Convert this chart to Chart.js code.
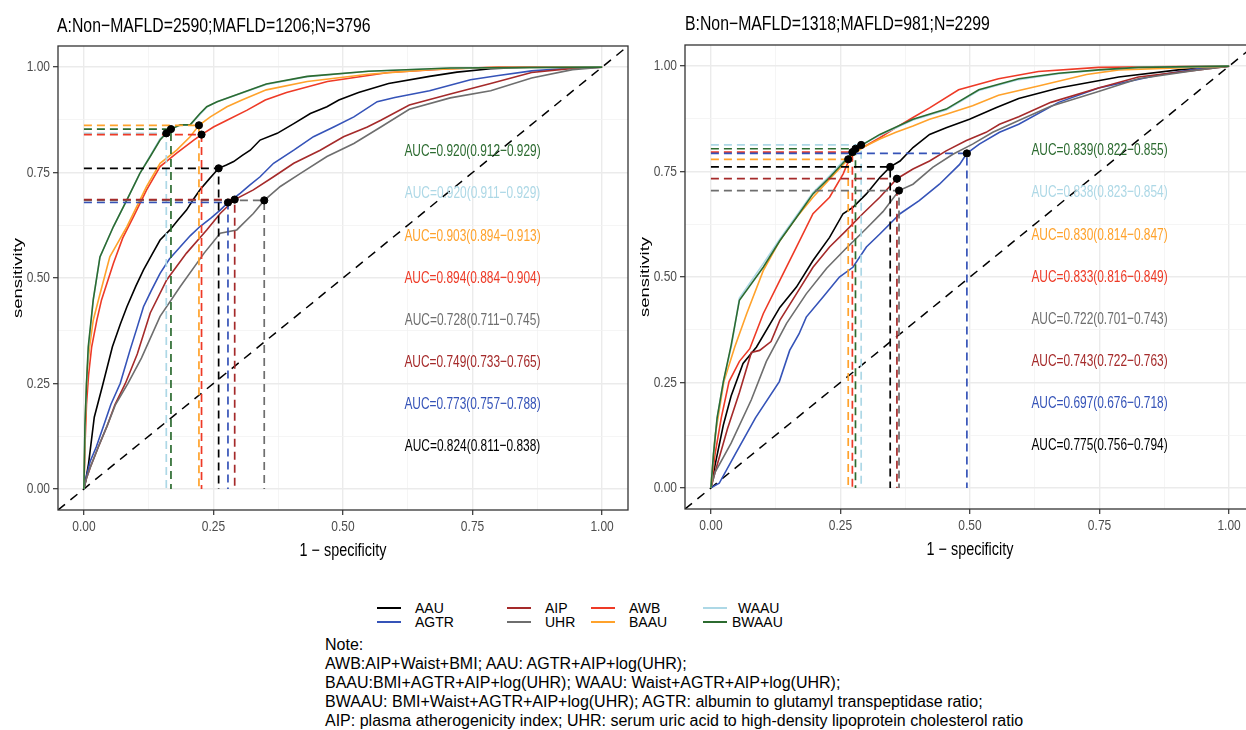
<!DOCTYPE html>
<html>
<head>
<meta charset="utf-8">
<script src="https://cdn.jsdelivr.net/npm/chart.js@4.4.1/dist/chart.umd.min.js"></script>
<style>
  html, body { margin: 0; padding: 0; background: #fff; overflow: hidden; }
  #wrap { position: relative; width: 1246px; height: 730px; overflow: hidden; }
  canvas { position: absolute; }
  .ttl { position: absolute; font-family: 'Liberation Sans', Arial, sans-serif; font-size: 20px; line-height: 20px; white-space: nowrap; color: #000; transform: scaleX(0.79); transform-origin: 0 0; }
  .lg-key { position: absolute; height: 2px; }
  .lg-txt { position: absolute; font-family: 'Liberation Sans', Arial, sans-serif; font-size: 14px; line-height: 14px; white-space: nowrap; color: #000; }
  #note { position: absolute; left: 325px; top: 635px; font-family: 'Liberation Sans', Arial, sans-serif; font-size: 16px; line-height: 19px; white-space: nowrap; color: #000; }
</style>
</head>
<body>
<div id="wrap">
  <canvas id="rocA" width="640" height="570" style="left:0;top:0"></canvas>
  <canvas id="rocB" width="640" height="570" style="left:627px;top:-1px"></canvas>
  <div class="ttl" style="left:57px;top:15px">A:Non−MAFLD=2590;MAFLD=1206;N=3796</div>
  <div class="ttl" style="left:685px;top:13px">B:Non−MAFLD=1318;MAFLD=981;N=2299</div>
  <div id="legend"></div>
  <div id="note">Note:<br>AWB:AIP+Waist+BMI; AAU: AGTR+AIP+log(UHR);<br>BAAU:BMI+AGTR+AIP+log(UHR); WAAU: Waist+AGTR+AIP+log(UHR);<br>BWAAU: BMI+Waist+AGTR+AIP+log(UHR); AGTR: albumin to glutamyl transpeptidase ratio;<br>AIP: plasma atherogenicity index; UHR: serum uric acid to high-density lipoprotein cholesterol ratio</div>
</div>
<script>
// Модели (порядок легенды)
const models = ['AAU', 'AGTR', 'AIP', 'UHR', 'AWB', 'BAAU', 'WAAU', 'BWAAU'];
const modelColors = ['#000000', '#3553B8', '#A52A2A', '#6E6E6E', '#EE3A26', '#FFA22B', '#ADD8E6', '#2C6B30'];

// Деления осей
const tickValues = [0, 0.25, 0.5, 0.75, 1];
const tickLabels = ['0.00', '0.25', '0.50', '0.75', '1.00'];
const minorTicks = [0.125, 0.375, 0.625, 0.875];

// ---- Панель A: ROC кривые (1 - специфичность / чувствительность) ----
const A_AAU_fpr = [0, 0.004, 0.009, 0.02, 0.036, 0.055, 0.07, 0.083, 0.1, 0.115, 0.131, 0.147, 0.166, 0.182, 0.198, 0.212, 0.224, 0.242, 0.26, 0.275, 0.289, 0.305, 0.321, 0.34, 0.373, 0.405, 0.437, 0.469, 0.492, 0.53, 0.588, 0.667, 0.72, 0.785, 0.86, 0.93, 1];
const A_AAU_tpr = [0, 0.025, 0.06, 0.17, 0.245, 0.337, 0.39, 0.432, 0.48, 0.519, 0.555, 0.59, 0.614, 0.638, 0.661, 0.688, 0.709, 0.735, 0.76, 0.768, 0.776, 0.79, 0.803, 0.827, 0.843, 0.866, 0.89, 0.906, 0.922, 0.94, 0.961, 0.978, 0.988, 0.996, 1, 1, 1];
const A_AGTR_fpr = [0, 0.005, 0.012, 0.024, 0.038, 0.052, 0.07, 0.089, 0.102, 0.115, 0.13, 0.147, 0.165, 0.186, 0.205, 0.224, 0.245, 0.263, 0.278, 0.302, 0.32, 0.34, 0.366, 0.405, 0.443, 0.482, 0.521, 0.566, 0.6, 0.667, 0.746, 0.8, 0.864, 0.943, 1];
const A_AGTR_tpr = [0, 0.03, 0.065, 0.1, 0.15, 0.2, 0.25, 0.329, 0.38, 0.432, 0.47, 0.511, 0.545, 0.574, 0.6, 0.622, 0.642, 0.661, 0.679, 0.701, 0.72, 0.74, 0.772, 0.803, 0.835, 0.858, 0.882, 0.918, 0.928, 0.944, 0.97, 0.98, 0.991, 0.998, 1];
const A_AIP_fpr = [0, 0.005, 0.012, 0.028, 0.045, 0.06, 0.08, 0.103, 0.128, 0.16, 0.198, 0.237, 0.263, 0.291, 0.327, 0.366, 0.405, 0.456, 0.501, 0.547, 0.573, 0.628, 0.707, 0.785, 0.864, 0.943, 1];
const A_AIP_tpr = [0, 0.025, 0.05, 0.1, 0.15, 0.2, 0.25, 0.32, 0.417, 0.496, 0.559, 0.614, 0.653, 0.686, 0.709, 0.74, 0.772, 0.803, 0.835, 0.858, 0.874, 0.91, 0.936, 0.961, 0.987, 0.997, 1];
const A_UHR_fpr = [0, 0.005, 0.012, 0.028, 0.045, 0.061, 0.085, 0.111, 0.147, 0.186, 0.232, 0.263, 0.295, 0.327, 0.348, 0.379, 0.418, 0.469, 0.521, 0.573, 0.628, 0.707, 0.785, 0.864, 0.943, 1];
const A_UHR_tpr = [0, 0.025, 0.05, 0.1, 0.15, 0.2, 0.25, 0.31, 0.409, 0.48, 0.559, 0.606, 0.614, 0.653, 0.684, 0.717, 0.748, 0.788, 0.819, 0.858, 0.9, 0.927, 0.944, 0.974, 0.994, 1];
const A_AWB_fpr = [0, 0.002, 0.005, 0.009, 0.015, 0.025, 0.034, 0.057, 0.075, 0.096, 0.121, 0.147, 0.179, 0.212, 0.227, 0.25, 0.276, 0.315, 0.35, 0.391, 0.47, 0.588, 0.707, 0.8, 1];
const A_AWB_tpr = [0, 0.1, 0.2, 0.27, 0.337, 0.4, 0.448, 0.535, 0.595, 0.646, 0.709, 0.764, 0.796, 0.827, 0.84, 0.858, 0.874, 0.898, 0.922, 0.94, 0.966, 0.987, 0.996, 1, 1];
const A_BAAU_fpr = [0, 0.002, 0.004, 0.007, 0.011, 0.018, 0.028, 0.05, 0.083, 0.121, 0.147, 0.179, 0.205, 0.222, 0.244, 0.276, 0.305, 0.352, 0.431, 0.549, 0.667, 0.785, 1];
const A_BAAU_tpr = [0, 0.12, 0.22, 0.29, 0.337, 0.4, 0.448, 0.55, 0.622, 0.717, 0.772, 0.803, 0.835, 0.862, 0.882, 0.906, 0.922, 0.946, 0.966, 0.983, 0.994, 0.999, 1];
const A_WAAU_fpr = [0, 0.002, 0.005, 0.009, 0.018, 0.031, 0.057, 0.083, 0.108, 0.128, 0.147, 0.159, 0.17, 0.186, 0.205, 0.224, 0.237, 0.257, 0.352, 0.431, 0.549, 0.707, 1];
const A_WAAU_tpr = [0, 0.15, 0.25, 0.337, 0.448, 0.55, 0.622, 0.685, 0.748, 0.79, 0.83, 0.843, 0.854, 0.862, 0.863, 0.888, 0.905, 0.918, 0.959, 0.977, 0.99, 0.998, 1];
const A_BWAAU_fpr = [0, 0.002, 0.005, 0.0084, 0.018, 0.031, 0.057, 0.083, 0.108, 0.128, 0.147, 0.159, 0.168, 0.186, 0.205, 0.224, 0.237, 0.257, 0.352, 0.431, 0.549, 0.707, 1];
const A_BWAAU_tpr = [0, 0.15, 0.25, 0.337, 0.448, 0.55, 0.622, 0.685, 0.748, 0.788, 0.827, 0.843, 0.853, 0.863, 0.863, 0.89, 0.906, 0.918, 0.96, 0.978, 0.99, 0.998, 1];

// Точки отсечения A
const A_cut_fpr = [0.260, 0.278, 0.291, 0.348, 0.227, 0.222, 0.159, 0.168];
const A_cut_tpr = [0.760, 0.679, 0.686, 0.684, 0.840, 0.862, 0.843, 0.853];
const A_auc = ['0.824(0.811−0.838)', '0.773(0.757−0.788)', '0.749(0.733−0.765)', '0.728(0.711−0.745)', '0.894(0.884−0.904)', '0.903(0.894−0.913)', '0.920(0.911−0.929)', '0.920(0.912−0.929)'];

// ---- Панель B ----
const B_AAU_fpr = [0, 0.008, 0.024, 0.039, 0.062, 0.088, 0.133, 0.165, 0.197, 0.229, 0.255, 0.274, 0.3, 0.326, 0.346, 0.365, 0.39, 0.422, 0.454, 0.499, 0.55, 0.594, 0.671, 0.787, 0.902, 1];
const B_AAU_tpr = [0, 0.054, 0.149, 0.218, 0.295, 0.334, 0.428, 0.476, 0.539, 0.594, 0.65, 0.665, 0.697, 0.736, 0.761, 0.775, 0.807, 0.838, 0.854, 0.874, 0.901, 0.923, 0.948, 0.974, 0.991, 1];
const B_AGTR_fpr = [0, 0.016, 0.047, 0.086, 0.132, 0.152, 0.17, 0.184, 0.216, 0.248, 0.274, 0.3, 0.326, 0.365, 0.402, 0.441, 0.48, 0.494, 0.518, 0.557, 0.594, 0.671, 0.748, 0.864, 0.941, 1];
const B_AGTR_tpr = [0, 0.011, 0.08, 0.166, 0.252, 0.326, 0.365, 0.405, 0.452, 0.5, 0.523, 0.571, 0.602, 0.65, 0.681, 0.72, 0.767, 0.793, 0.815, 0.843, 0.862, 0.914, 0.948, 0.979, 0.994, 1];
const B_AIP_fpr = [0, 0.008, 0.032, 0.055, 0.078, 0.094, 0.116, 0.133, 0.165, 0.197, 0.229, 0.261, 0.293, 0.326, 0.359, 0.39, 0.422, 0.454, 0.492, 0.531, 0.557, 0.594, 0.656, 0.748, 0.825, 0.941, 1];
const B_AIP_tpr = [0, 0.037, 0.14, 0.226, 0.321, 0.326, 0.347, 0.397, 0.46, 0.523, 0.571, 0.61, 0.65, 0.689, 0.733, 0.756, 0.775, 0.799, 0.823, 0.843, 0.862, 0.88, 0.914, 0.948, 0.974, 0.991, 1];
const B_UHR_fpr = [0, 0.008, 0.039, 0.078, 0.107, 0.146, 0.184, 0.223, 0.261, 0.3, 0.332, 0.363, 0.39, 0.428, 0.467, 0.505, 0.544, 0.594, 0.656, 0.748, 0.825, 0.941, 1];
const B_UHR_tpr = [0, 0.037, 0.106, 0.209, 0.3, 0.39, 0.46, 0.52, 0.568, 0.615, 0.655, 0.705, 0.72, 0.76, 0.791, 0.815, 0.843, 0.871, 0.905, 0.94, 0.97, 0.991, 1];
const B_AWB_fpr = [0, 0.008, 0.02, 0.035, 0.055, 0.075, 0.101, 0.133, 0.165, 0.197, 0.229, 0.255, 0.273, 0.293, 0.326, 0.357, 0.39, 0.422, 0.478, 0.555, 0.632, 0.748, 1];
const B_AWB_tpr = [0, 0.08, 0.166, 0.252, 0.3, 0.33, 0.413, 0.492, 0.571, 0.65, 0.689, 0.744, 0.796, 0.807, 0.83, 0.854, 0.878, 0.901, 0.944, 0.97, 0.987, 0.997, 1];
const B_BAAU_fpr = [0, 0.008, 0.025, 0.046, 0.069, 0.101, 0.133, 0.165, 0.197, 0.229, 0.265, 0.293, 0.326, 0.357, 0.39, 0.422, 0.454, 0.505, 0.555, 0.632, 0.725, 0.787, 1];
const B_BAAU_tpr = [0, 0.123, 0.252, 0.334, 0.413, 0.515, 0.586, 0.641, 0.689, 0.732, 0.779, 0.807, 0.827, 0.843, 0.858, 0.874, 0.886, 0.906, 0.931, 0.953, 0.98, 0.991, 1];
const B_WAAU_fpr = [0, 0.005, 0.012, 0.024, 0.04, 0.055, 0.1, 0.133, 0.165, 0.197, 0.229, 0.263, 0.29, 0.326, 0.39, 0.454, 0.517, 0.594, 0.671, 0.748, 0.825, 1];
const B_WAAU_tpr = [0, 0.08, 0.166, 0.252, 0.338, 0.45, 0.53, 0.59, 0.645, 0.7, 0.74, 0.785, 0.813, 0.836, 0.872, 0.896, 0.942, 0.968, 0.982, 0.99, 0.997, 1];
const B_BWAAU_fpr = [0, 0.005, 0.012, 0.024, 0.039, 0.055, 0.101, 0.133, 0.165, 0.197, 0.229, 0.263, 0.279, 0.326, 0.39, 0.454, 0.517, 0.594, 0.671, 0.748, 0.825, 1];
const B_BWAAU_tpr = [0, 0.08, 0.166, 0.252, 0.338, 0.445, 0.523, 0.586, 0.641, 0.697, 0.736, 0.781, 0.804, 0.838, 0.874, 0.898, 0.944, 0.97, 0.983, 0.991, 0.997, 1];

const B_cut_fpr = [0.346, 0.494, 0.359, 0.363, 0.273, 0.265, 0.290, 0.279];
const B_cut_tpr = [0.761, 0.793, 0.733, 0.705, 0.796, 0.779, 0.813, 0.804];
const B_auc = ['0.775(0.756−0.794)', '0.697(0.676−0.718)', '0.743(0.722−0.763)', '0.722(0.701−0.743)', '0.833(0.816−0.849)', '0.830(0.814−0.847)', '0.838(0.823−0.854)', '0.839(0.822−0.855)'];

// Положение подписей AUC (в единицах данных)
const aucLabelX = 0.75;
const aucLabelY = [0.1, 0.2, 0.3, 0.4, 0.5, 0.6, 0.7, 0.8];

const curvesA = [[A_AAU_fpr, A_AAU_tpr], [A_AGTR_fpr, A_AGTR_tpr], [A_AIP_fpr, A_AIP_tpr], [A_UHR_fpr, A_UHR_tpr],
  [A_AWB_fpr, A_AWB_tpr], [A_BAAU_fpr, A_BAAU_tpr], [A_WAAU_fpr, A_WAAU_tpr], [A_BWAAU_fpr, A_BWAAU_tpr]];
const curvesB = [[B_AAU_fpr, B_AAU_tpr], [B_AGTR_fpr, B_AGTR_tpr], [B_AIP_fpr, B_AIP_tpr], [B_UHR_fpr, B_UHR_tpr],
  [B_AWB_fpr, B_AWB_tpr], [B_BAAU_fpr, B_BAAU_tpr], [B_WAAU_fpr, B_WAAU_tpr], [B_BWAAU_fpr, B_BWAAU_tpr]];

const FONT = "'Liberation Sans', Arial, sans-serif";
const allTicks = [...tickValues, ...minorTicks].sort((a, b) => a - b);

function isMinor(v) {
  return minorTicks.includes(v);
}

function toPoints(xs, ys) {
  return xs.map((x, i) => ({ x: x, y: ys[i] }));
}

// Текст, сжатый по горизонтали (как в исходнике)
function narrowText(ctx, text, x, y, squeeze) {
  ctx.save();
  ctx.translate(x, y);
  ctx.scale(squeeze, 1);
  ctx.fillText(text, 0, 0);
  ctx.restore();
}

// Рамка панели, подписи делений, подписи AUC и заголовки осей
function makeDecor(aucTexts) {
  return {
    id: 'panelDecor',
    afterDatasetsDraw(chart) {
      const { ctx, scales } = chart;
      ctx.save();
      ctx.font = '17px ' + FONT;
      ctx.textAlign = 'center';
      ctx.textBaseline = 'middle';
      aucTexts.forEach((t, i) => {
        ctx.fillStyle = modelColors[i];
        narrowText(ctx, 'AUC=' + t, scales.x.getPixelForValue(aucLabelX), scales.y.getPixelForValue(aucLabelY[i]), 0.7);
      });
      ctx.restore();
    },
    afterDraw(chart) {
      const { ctx, chartArea: a, scales } = chart;
      ctx.save();
      ctx.strokeStyle = '#333333';
      ctx.lineWidth = 1.3;
      ctx.strokeRect(a.left, a.top, a.right - a.left, a.bottom - a.top);

      // подписи делений
      ctx.fillStyle = '#4D4D4D';
      ctx.font = '15px ' + FONT;
      ctx.textAlign = 'center';
      ctx.textBaseline = 'alphabetic';
      tickValues.forEach((v, i) => {
        narrowText(ctx, tickLabels[i], scales.x.getPixelForValue(v), a.bottom + 21, 0.8);
      });
      ctx.textAlign = 'right';
      ctx.textBaseline = 'middle';
      tickValues.forEach((v, i) => {
        narrowText(ctx, tickLabels[i], a.left - 8, scales.y.getPixelForValue(v), 0.8);
      });

      // заголовки осей
      ctx.fillStyle = '#000';
      ctx.font = '18px ' + FONT;
      ctx.textAlign = 'center';
      ctx.textBaseline = 'alphabetic';
      narrowText(ctx, '1 − specificity', (a.left + a.right) / 2, 556, 0.8);

      ctx.translate(18.5, (a.top + a.bottom) / 2);
      ctx.rotate(-Math.PI / 2);
      ctx.scale(1, 0.74);
      ctx.font = '18.5px ' + FONT;
      ctx.textBaseline = 'middle';
      ctx.fillText('sensitivity', 0, 0);
      ctx.restore();
    }
  };
}

function axisOptions(isX) {
  return {
    type: 'linear',
    min: -0.05,
    max: 1.05,
    afterBuildTicks: (scale) => { scale.ticks = allTicks.map(v => ({ value: v })); },
    afterFit: (scale) => {
      if (isX) scale.height = 60; else scale.width = 58;
    },
    ticks: { display: false, autoSkip: false, maxRotation: 0 },
    grid: {
      color: (c) => (c.tick && isMinor(c.tick.value)) ? '#F2F2F2' : '#EBEBEB',
      lineWidth: (c) => (c.tick && isMinor(c.tick.value)) ? 0.8 : 1.4,
      tickColor: (c) => (c.tick && isMinor(c.tick.value)) ? 'rgba(0,0,0,0)' : '#333333',
      tickLength: 5,
      tickWidth: 1.2
    },
    border: { display: false }
  };
}

function buildPanel(canvasId, curves, cutX, cutY, aucTexts) {
  const datasets = [];

  // Кривые: BWAAU сверху
  curves.forEach((c, i) => {
    datasets.push({
      label: models[i],
      data: toPoints(c[0], c[1]),
      showLine: true,
      borderColor: modelColors[i],
      borderWidth: 1.6,
      pointRadius: 0,
      order: 10 - i
    });
  });

  // Пунктир до точек отсечения
  cutX.forEach((x, i) => {
    datasets.push({
      data: [{ x: 0, y: cutY[i] }, { x: x, y: cutY[i] }, { x: x, y: 0 }],
      showLine: true,
      borderColor: modelColors[i],
      borderWidth: 1.7,
      borderDash: [8, 5],
      pointRadius: 0,
      order: 1
    });
  });

  // Точки отсечения
  datasets.push({
    data: toPoints(cutX, cutY),
    showLine: false,
    pointRadius: 3.6,
    pointBackgroundColor: '#000',
    pointBorderColor: '#000',
    order: 0
  });

  // Диагональ
  datasets.push({
    data: [{ x: -0.05, y: -0.05 }, { x: 1.05, y: 1.05 }],
    showLine: true,
    borderColor: '#000',
    borderWidth: 1.5,
    borderDash: [9, 7],
    pointRadius: 0,
    order: 20
  });

  return new Chart(document.getElementById(canvasId), {
    type: 'scatter',
    data: { datasets: datasets },
    options: {
      responsive: false,
      animation: false,
      devicePixelRatio: 1,
      events: [],
      layout: { padding: { top: 46, right: 12, left: 0, bottom: 0 } },
      plugins: {
        legend: { display: false },
        tooltip: { enabled: false },
        title: { display: false }
      },
      scales: { x: axisOptions(true), y: axisOptions(false) }
    },
    plugins: [makeDecor(aucTexts)]
  });
}

// Легенда внизу
function buildLegend() {
  const legendCol = [0, 0, 1, 1, 2, 2, 3, 3];
  const legendRow = [0, 1, 0, 1, 0, 1, 0, 1];
  const keyLeft = [377, 507, 591, 703];
  const textLeft = [415, 415, 545, 545, 629, 629, 738, 732];
  const rowY = [607.5, 621.5];
  const box = document.getElementById('legend');
  models.forEach((m, i) => {
    const key = document.createElement('div');
    key.className = 'lg-key';
    key.style.left = keyLeft[legendCol[i]] + 'px';
    key.style.width = '24px';
    key.style.top = (rowY[legendRow[i]] - 1) + 'px';
    key.style.background = modelColors[i];
    box.appendChild(key);
    const txt = document.createElement('div');
    txt.className = 'lg-txt';
    txt.style.left = textLeft[i] + 'px';
    txt.style.top = (rowY[legendRow[i]] - 7) + 'px';
    txt.textContent = m;
    box.appendChild(txt);
  });
}

buildPanel('rocA', curvesA, A_cut_fpr, A_cut_tpr, A_auc);
buildPanel('rocB', curvesB, B_cut_fpr, B_cut_tpr, B_auc);
buildLegend();
</script>
</body>
</html>
